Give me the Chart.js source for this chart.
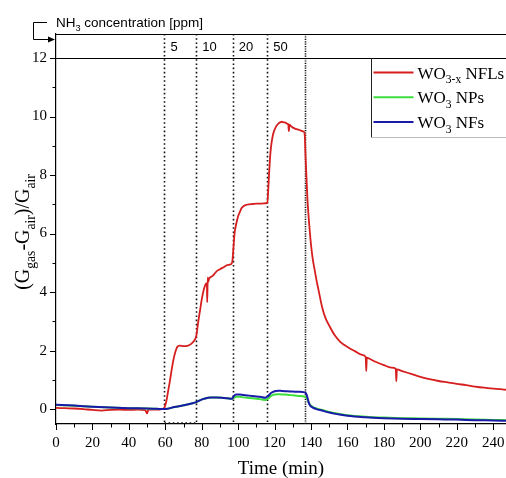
<!DOCTYPE html>
<html>
<head>
<meta charset="utf-8">
<script src="https://cdn.jsdelivr.net/npm/chart.js@4"></script>
<style>
  html, body { margin: 0; padding: 0; background: #fff; }
  canvas { display: block; }
</style>
</head>
<body>
<canvas id="myChart" width="506" height="478"></canvas>
<script>
// response of the three sensors
const redTime = [0, 5, 10, 15, 20, 25, 30, 35, 40, 45, 49, 50, 50.5, 51, 55, 58, 59.5, 60.5, 61.5, 62.5, 63.5, 64.5, 65.5, 66.5, 68, 70, 72, 74, 76, 77, 78, 79, 80, 81, 82, 82.8, 83, 83.3, 83.6, 84, 86, 88, 90, 92, 94, 96, 96.8, 97.5, 98, 99, 100, 101, 102, 104, 106, 108, 110, 112, 114, 116, 116.5, 117, 117.5, 118, 119, 120, 121, 122, 123, 124, 125, 126, 127, 127.5, 127.8, 128.2, 129, 130, 132, 134, 136, 136.5, 137, 137.5, 138, 139, 140, 141, 142, 143, 144, 146, 148, 150, 153, 156, 160, 164, 168, 170, 170.3, 170.6, 172, 176, 180, 184, 186.5, 186.8, 187.1, 190, 195, 200, 205, 210, 215, 220, 225, 230, 235, 240, 244, 247];
const redVal = [0.04, 0.03, 0.02, 0.0, -0.03, -0.05, -0.03, -0.02, -0.03, -0.02, -0.04, -0.15, -0.05, -0.02, -0.02, 0.0, 0.05, 0.25, 0.6, 0.95, 1.35, 1.7, 1.95, 2.12, 2.17, 2.15, 2.16, 2.22, 2.35, 2.5, 2.95, 3.35, 3.75, 4.05, 4.25, 4.3, 3.65, 4.5, 4.35, 4.45, 4.55, 4.7, 4.78, 4.85, 4.92, 4.95, 5.05, 5.6, 6.0, 6.35, 6.6, 6.75, 6.88, 6.97, 7.0, 7.01, 7.02, 7.02, 7.03, 7.05, 7.5, 8.1, 8.6, 8.95, 9.35, 9.55, 9.68, 9.76, 9.8, 9.82, 9.8, 9.79, 9.75, 9.74, 9.5, 9.72, 9.67, 9.62, 9.57, 9.53, 9.48, 9.4, 8.6, 7.9, 7.2, 6.3, 5.6, 5.1, 4.75, 4.4, 4.1, 3.5, 3.1, 2.85, 2.52, 2.3, 2.12, 1.98, 1.85, 1.78, 1.3, 1.76, 1.72, 1.6, 1.5, 1.42, 1.38, 0.95, 1.36, 1.3, 1.2, 1.1, 1.02, 0.96, 0.91, 0.86, 0.82, 0.77, 0.73, 0.7, 0.68, 0.66];

const blueTime = [0, 10, 20, 30, 40, 50, 55, 60, 65, 70, 75, 77, 79, 81, 83, 85, 88, 91, 94, 96.5, 97.5, 99, 100.5, 103, 106, 109, 112, 115, 116.5, 118, 120, 122, 124, 127, 130, 133, 136.5, 137.5, 139, 141, 143, 146, 150, 155, 160, 170, 180, 190, 200, 210, 220, 230, 240, 247];
const blueVal = [0.15, 0.12, 0.08, 0.05, 0.03, 0.02, 0.01, 0.0, 0.07, 0.13, 0.2, 0.24, 0.3, 0.35, 0.38, 0.4, 0.4, 0.39, 0.37, 0.35, 0.44, 0.5, 0.5, 0.48, 0.46, 0.44, 0.42, 0.39, 0.45, 0.55, 0.61, 0.63, 0.62, 0.61, 0.6, 0.59, 0.57, 0.5, 0.17, 0.05, 0.0, -0.05, -0.12, -0.18, -0.23, -0.28, -0.31, -0.33, -0.34, -0.35, -0.36, -0.38, -0.39, -0.4];

const greenTime = [0, 10, 20, 30, 40, 50, 55, 60, 65, 70, 75, 77, 79, 81, 83, 85, 88, 91, 94, 96.5, 97.5, 99, 100.5, 103, 106, 109, 112, 115, 116.5, 118, 120, 122, 124, 127, 130, 133, 136.5, 137.5, 139, 141, 143, 146, 150, 155, 160, 170, 180, 190, 200, 210, 220, 230, 240, 247];
const greenVal = [0.14, 0.11, 0.08, 0.05, 0.03, 0.02, 0.01, 0.0, 0.07, 0.13, 0.2, 0.24, 0.3, 0.35, 0.38, 0.4, 0.4, 0.39, 0.37, 0.35, 0.38, 0.42, 0.42, 0.4, 0.38, 0.36, 0.34, 0.31, 0.36, 0.45, 0.5, 0.51, 0.5, 0.49, 0.47, 0.45, 0.42, 0.38, 0.19, 0.07, 0.02, -0.03, -0.1, -0.16, -0.21, -0.26, -0.29, -0.31, -0.32, -0.33, -0.34, -0.36, -0.37, -0.38];

const seriesNames = ['WO3-x NFLs', 'WO3 NPs', 'WO3 NFs'];
const stepTimes = [59.5, 77, 97, 116, 136.5];   // gas switched on/off
const concLabels = ['5', '10', '20', '50'];

const xTicks = [0, 20, 40, 60, 80, 100, 120, 140, 160, 180, 200, 220, 240];
const xMinor = [10, 30, 50, 70, 90, 110, 130, 150, 170, 190, 210, 230];
const yTicks = [0, 2, 4, 6, 8, 10, 12];
const yMinor = [1, 3, 5, 7, 9, 11];

const red = 'rgb(214, 30, 30)';
const green = 'rgb(60, 222, 60)';
const blue = 'rgb(26, 26, 168)';
const serif = '"Liberation Serif", "Times New Roman", serif';
const sans = '"Liberation Sans", Arial, sans-serif';

function pairs(t, v) {
    let out = [];
    for (let i = 0; i < t.length; i++) out.push({x: t[i], y: v[i]});
    return out;
}

// draws text made of normal / subscript pieces, returns width
function subText(ctx, parts, x, y, size, family, measureOnly) {
    let w = 0;
    for (let p of parts) {
        let sub = p[1] === 's';
        ctx.font = (sub ? size * 0.68 : size) + 'px ' + family;
        if (!measureOnly) ctx.fillText(p[0], x + w, y + (sub ? size * 0.28 : 0));
        w += ctx.measureText(p[0]).width;
    }
    return w;
}

const legendParts = [
    [['WO', 'n'], ['3-x', 's'], [' NFLs', 'n']],
    [['WO', 'n'], ['3', 's'], [' NPs', 'n']],
    [['WO', 'n'], ['3', 's'], [' NFs', 'n']]
];
const legendColors = [red, green, blue];

const deco = {
    id: 'deco',
    beforeDatasetsDraw(chart) {
        const ctx = chart.ctx, a = chart.chartArea, x = chart.scales.x, y = chart.scales.y;
        ctx.save();
        ctx.strokeStyle = '#111';
        ctx.lineWidth = 1.6;
        stepTimes.forEach((t, i) => {
            let px = Math.round(x.getPixelForValue(t)) + 0.5;
            ctx.setLineDash(i === stepTimes.length - 1 ? [1.2, 1.2] : [1.6, 2.6]);
            ctx.beginPath();
            ctx.moveTo(px, a.top);
            ctx.lineTo(px, a.bottom);
            ctx.stroke();
        });
        // short dotted piece along the axis under the first step
        ctx.setLineDash([1.6, 2.6]);
        let yb = y.getPixelForValue(-0.48);
        ctx.beginPath();
        ctx.moveTo(x.getPixelForValue(stepTimes[0]), yb);
        ctx.lineTo(x.getPixelForValue(stepTimes[1]), yb);
        ctx.stroke();
        ctx.restore();
    },
    afterDraw(chart) {
        const ctx = chart.ctx, a = chart.chartArea, x = chart.scales.x, y = chart.scales.y;
        ctx.save();
        ctx.strokeStyle = '#000';
        ctx.fillStyle = '#000';
        ctx.lineWidth = 1.2;

        // header box: top line and line at 12
        let y12 = Math.round(y.getPixelForValue(12)) + 0.5;
        ctx.beginPath();
        ctx.moveTo(a.left, a.top + 0.5); ctx.lineTo(a.right, a.top + 0.5);
        ctx.moveTo(a.left - 6, y12); ctx.lineTo(a.right, y12);
        ctx.stroke();

        // tick marks, major and minor, outward
        ctx.lineWidth = 1;
        ctx.beginPath();
        xTicks.forEach(v => { let p = Math.round(x.getPixelForValue(v)) + 0.5; ctx.moveTo(p, a.bottom); ctx.lineTo(p, a.bottom + 6); });
        xMinor.forEach(v => { let p = Math.round(x.getPixelForValue(v)) + 0.5; ctx.moveTo(p, a.bottom); ctx.lineTo(p, a.bottom + 3.5); });
        yTicks.forEach(v => { let p = Math.round(y.getPixelForValue(v)) + 0.5; ctx.moveTo(a.left, p); ctx.lineTo(a.left - 6, p); });
        yMinor.forEach(v => { let p = Math.round(y.getPixelForValue(v)) + 0.5; ctx.moveTo(a.left, p); ctx.lineTo(a.left - 3.5, p); });
        ctx.stroke();

        // concentration labels in the header
        ctx.font = '13px ' + sans;
        ctx.textBaseline = 'middle';
        ctx.textAlign = 'left';
        concLabels.forEach((c, i) => {
            ctx.fillText(c, x.getPixelForValue(stepTimes[i]) + 6, (a.top + y12) / 2 + 1);
        });

        // NH3 label with bent arrow
        ctx.textBaseline = 'alphabetic';
        subText(ctx, [['NH', 'n'], ['3', 's'], [' concentration [ppm]', 'n']], a.left, 27, 13.5, sans);
        ctx.lineWidth = 1;
        ctx.beginPath();
        ctx.moveTo(a.left - 9, 22.5); ctx.lineTo(a.left - 22.5, 22.5);
        ctx.lineTo(a.left - 22.5, 39.5); ctx.lineTo(a.left - 6, 39.5);
        ctx.stroke();
        ctx.beginPath();
        ctx.moveTo(a.left - 1, 39.5); ctx.lineTo(a.left - 8, 36.5); ctx.lineTo(a.left - 8, 42.5);
        ctx.closePath();
        ctx.fill();

        // legend box
        let lx = 371.5, lb = 137.5;
        ctx.strokeStyle = '#222';
        ctx.beginPath();
        ctx.moveTo(lx, y12); ctx.lineTo(lx, lb);
        ctx.stroke();
        ctx.strokeStyle = '#bbb';
        ctx.beginPath();
        ctx.moveTo(lx, lb); ctx.lineTo(a.right, lb);
        ctx.stroke();
        legendParts.forEach((parts, i) => {
            let ly = 72.5 + i * 24.8;
            ctx.strokeStyle = legendColors[i];
            ctx.lineWidth = 2;
            ctx.beginPath();
            ctx.moveTo(lx + 2, ly); ctx.lineTo(lx + 42, ly);
            ctx.stroke();
            ctx.fillStyle = '#000';
            subText(ctx, parts, lx + 46, ly + 6, 17, serif);
        });

        // axis titles
        ctx.fillStyle = '#000';
        ctx.textAlign = 'center';
        ctx.font = '19px ' + serif;
        ctx.fillText('Time (min)', (a.left + a.right) / 2, 474);

        ctx.textAlign = 'left';
        let yParts = [['(G', 'n'], ['gas', 's'], ['-G', 'n'], ['air', 's'], [')/G', 'n'], ['air', 's']];
        let w = subText(ctx, yParts, 0, 0, 20, serif, true);
        ctx.translate(29, 232);
        ctx.rotate(-Math.PI / 2);
        subText(ctx, yParts, -w / 2, 0, 20, serif);
        ctx.restore();
    }
};

var ctx = document.getElementById('myChart').getContext('2d');
var chart = new Chart(ctx, {
    type: 'line',
    data: {
        datasets: [{
            label: seriesNames[2],
            data: pairs(blueTime, blueVal),
            borderColor: blue,
            borderWidth: 2
        }, {
            label: seriesNames[1],
            data: pairs(greenTime, greenVal),
            borderColor: green,
            borderWidth: 2
        }, {
            label: seriesNames[0],
            data: pairs(redTime, redVal),
            borderColor: red,
            borderWidth: 1.8
        }]
    },
    options: {
        responsive: false,
        animation: false,
        devicePixelRatio: 1,
        layout: { padding: { top: 34, left: 0, right: 0, bottom: 0 } },
        elements: {
            point: { radius: 0 },
            line: { cubicInterpolationMode: 'monotone' }
        },
        plugins: {
            legend: { display: false },
            tooltip: { enabled: false }
        },
        scales: {
            x: {
                type: 'linear',
                min: 0,
                max: 247,
                afterBuildTicks: s => { s.ticks = xTicks.map(v => ({value: v})); },
                afterFit: s => { s.height = 54; s.paddingRight = 0; s.paddingLeft = 0; },
                grid: { display: true, drawOnChartArea: false, drawTicks: false },
                border: { display: true, color: '#000', width: 1.2 },
                ticks: { color: '#000', padding: 10, maxRotation: 0, font: { family: serif, size: 15 } }
            },
            y: {
                type: 'linear',
                min: -0.51,
                max: 12.82,
                afterBuildTicks: s => { s.ticks = yTicks.map(v => ({value: v})); },
                afterFit: s => { s.width = 56; s.paddingTop = 0; s.paddingBottom = 0; },
                grid: { display: true, drawOnChartArea: false, drawTicks: false },
                border: { display: true, color: '#000', width: 1.2 },
                ticks: { color: '#000', padding: 9, font: { family: serif, size: 15 } }
            }
        }
    },
    plugins: [deco]
});
</script>
</body>
</html>
